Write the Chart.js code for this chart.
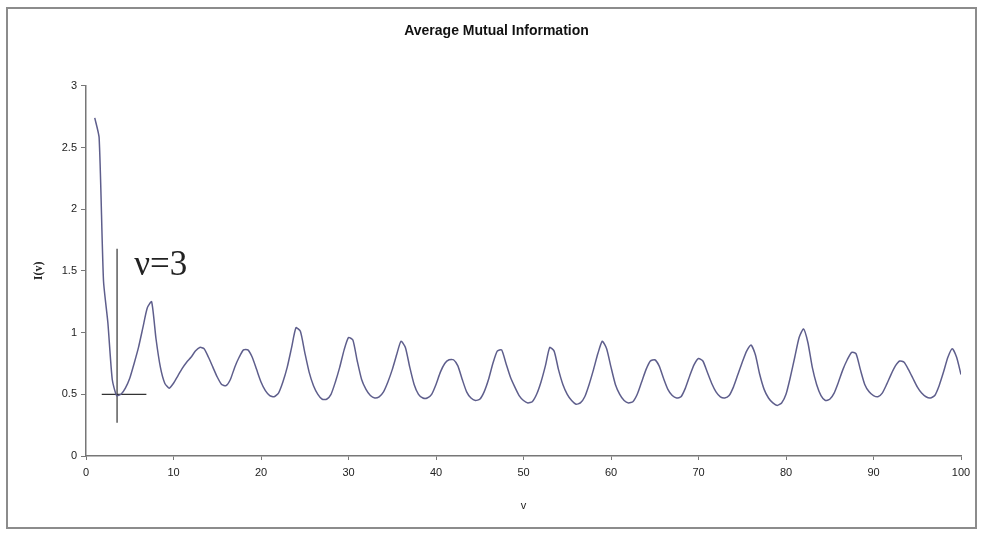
<!DOCTYPE html>
<html>
<head>
<meta charset="utf-8">
<script src="https://cdn.jsdelivr.net/npm/chart.js@4/dist/chart.umd.min.js"></script>
<style>
  html, body { margin: 0; padding: 0; background: #ffffff; }
  #wrap { width: 983px; height: 537px; position: relative; }
</style>
</head>
<body>
<div id="wrap"><canvas id="c" width="983" height="537"></canvas></div>
<script>
// ---- data ----
const chartTitle = "Average Mutual Information";
const xTitle = "v";
const yTitle = "I(v)";
const xTickLabels = ["0","10","20","30","40","50","60","70","80","90","100"];
const yTickLabels = ["0","0.5","1","1.5","2","2.5","3"];

const lags = [
  1,1.5,2,2.5,3,3.5,4,4.5,5,5.5,
  6,6.5,7,7.5,8,8.5,9,9.5,10,10.5,
  11,11.5,12,12.5,13,13.5,14,14.5,15,15.5,
  16,16.5,17,17.5,18,18.5,19,19.5,20,20.5,
  21,21.5,22,22.5,23,23.5,24,24.5,25,25.5,
  26,26.5,27,27.5,28,28.5,29,29.5,30,30.5,
  31,31.5,32,32.5,33,33.5,34,34.5,35,35.5,
  36,36.5,37,37.5,38,38.5,39,39.5,40,40.5,
  41,41.5,42,42.5,43,43.5,44,44.5,45,45.5,
  46,46.5,47,47.5,48,48.5,49,49.5,50,50.5,
  51,51.5,52,52.5,53,53.5,54,54.5,55,55.5,
  56,56.5,57,57.5,58,58.5,59,59.5,60,60.5,
  61,61.5,62,62.5,63,63.5,64,64.5,65,65.5,
  66,66.5,67,67.5,68,68.5,69,69.5,70,70.5,
  71,71.5,72,72.5,73,73.5,74,74.5,75,75.5,
  76,76.5,77,77.5,78,78.5,79,79.5,80,80.5,
  81,81.5,82,82.5,83,83.5,84,84.5,85,85.5,
  86,86.5,87,87.5,88,88.5,89,89.5,90,90.5,
  91,91.5,92,92.5,93,93.5,94,94.5,95,95.5,
  96,96.5,97,97.5,98,98.5,99,99.5,100
];
const amiValues = [
  2.74,2.58,1.42,1.08,0.62,0.49,0.50,0.55,0.63,0.75,
  0.88,1.04,1.20,1.25,0.95,0.72,0.59,0.55,0.59,0.65,
  0.71,0.76,0.80,0.85,0.88,0.87,0.80,0.72,0.64,0.58,
  0.57,0.62,0.72,0.80,0.86,0.86,0.80,0.70,0.60,0.53,
  0.49,0.48,0.51,0.60,0.72,0.88,1.04,1.01,0.84,0.68,
  0.57,0.50,0.46,0.46,0.50,0.60,0.72,0.86,0.96,0.94,
  0.77,0.62,0.54,0.49,0.47,0.48,0.52,0.60,0.70,0.82,
  0.93,0.88,0.72,0.58,0.50,0.47,0.47,0.50,0.58,0.68,
  0.75,0.78,0.78,0.73,0.62,0.52,0.47,0.45,0.46,0.52,
  0.62,0.75,0.85,0.86,0.75,0.64,0.56,0.49,0.45,0.43,
  0.44,0.50,0.60,0.73,0.88,0.85,0.70,0.58,0.50,0.45,
  0.42,0.43,0.48,0.58,0.70,0.83,0.93,0.87,0.72,0.58,
  0.50,0.45,0.43,0.44,0.50,0.60,0.70,0.77,0.78,0.73,
  0.63,0.54,0.49,0.47,0.48,0.55,0.65,0.74,0.79,0.77,
  0.68,0.59,0.52,0.48,0.47,0.49,0.56,0.66,0.76,0.85,
  0.90,0.82,0.66,0.54,0.47,0.43,0.41,0.43,0.50,0.64,
  0.80,0.96,1.03,0.92,0.72,0.58,0.49,0.45,0.46,0.51,
  0.60,0.70,0.78,0.84,0.83,0.70,0.58,0.52,0.49,0.48,
  0.51,0.58,0.66,0.73,0.77,0.76,0.70,0.63,0.56,0.51,
  0.48,0.47,0.49,0.57,0.68,0.80,0.87,0.80,0.66
];

// crosshair marking the first minimum
const markerX = [3.55, 3.55];
const markerY = [0.27, 1.68];
const markerHX = [1.8, 6.9];
const markerHY = [0.5, 0.5];
const annotationText = "\u03BD=3";
const annotationPos = [5.5, 1.47];

// ---- build ----
const seriesPoints = lags.map((v, i) => ({ x: v, y: amiValues[i] }));
const vLine = markerX.map((v, i) => ({ x: v, y: markerY[i] }));
const hLine = markerHX.map((v, i) => ({ x: v, y: markerHY[i] }));

const frameAndText = {
  id: 'frameAndText',
  beforeDraw(chart) {
    const ctx = chart.ctx;
    ctx.save();
    ctx.fillStyle = '#ffffff';
    ctx.fillRect(0, 0, chart.width, chart.height);
    ctx.strokeStyle = '#8c8c8c';
    ctx.lineWidth = 2;
    ctx.strokeRect(7, 8, 969, 520);
    ctx.restore();
  },
  afterDatasetsDraw(chart) {
    const ctx = chart.ctx;
    const xs = chart.scales.x, ys = chart.scales.y;
    ctx.save();
    ctx.fillStyle = '#222222';
    ctx.font = '35px "Liberation Serif", "DejaVu Serif", serif';
    ctx.textBaseline = 'alphabetic';
    ctx.textAlign = 'left';
    ctx.fillText(annotationText, xs.getPixelForValue(annotationPos[0]), ys.getPixelForValue(annotationPos[1]));
    ctx.restore();
  }
};

const tickFont = { family: '"Liberation Sans Narrow", "Liberation Sans", Arial, sans-serif', size: 11 };

new Chart(document.getElementById('c'), {
  type: 'scatter',
  data: {
    datasets: [
      { data: seriesPoints, showLine: true, borderColor: '#5e5e8c', borderWidth: 1.5,
        pointRadius: 0, tension: 0.2, fill: false },
      { data: vLine, showLine: true, borderColor: '#333333', borderWidth: 1.2, pointRadius: 0 },
      { data: hLine, showLine: true, borderColor: '#333333', borderWidth: 1.2, pointRadius: 0 }
    ]
  },
  options: {
    responsive: false,
    animation: false,
    devicePixelRatio: 1,
    layout: { padding: { left: 32, right: 22, top: 20, bottom: 24 } },
    plugins: {
      legend: { display: false },
      tooltip: { enabled: false },
      title: {
        display: true, text: chartTitle, color: '#111111',
        font: { family: '"Liberation Sans Narrow", "Liberation Sans", Arial, sans-serif', size: 14, weight: 'bold' },
        padding: { top: 3, bottom: 46 }
      }
    },
    scales: {
      x: {
        type: 'linear', min: 0, max: 100,
        afterFit(s) { s.height = 57; },
        ticks: { stepSize: 10, color: '#222222', font: tickFont, padding: 6, maxRotation: 0,
          callback: (v) => xTickLabels[Math.round(v / 10)] },
        grid: { display: true, drawOnChartArea: false, drawTicks: true, tickLength: 4, color: '#777777' },
        border: { display: true, color: '#777777', width: 1.5 },
        title: { display: true, text: xTitle, color: '#222222', font: tickFont, padding: 0 }
      },
      y: {
        type: 'linear', min: 0, max: 3,
        afterFit(s) { s.width = 54; },
        ticks: { stepSize: 0.5, color: '#222222', font: tickFont, padding: 4,
          callback: (v) => yTickLabels[Math.round(v * 2)] },
        grid: { display: true, drawOnChartArea: false, drawTicks: true, tickLength: 5, color: '#777777' },
        border: { display: true, color: '#777777', width: 1.5 },
        title: { display: true, text: yTitle, color: '#222222',
          font: { family: '"Liberation Serif", serif', size: 12, weight: 'bold' }, padding: 0 }
      }
    }
  },
  plugins: [frameAndText]
});
</script>
</body>
</html>
